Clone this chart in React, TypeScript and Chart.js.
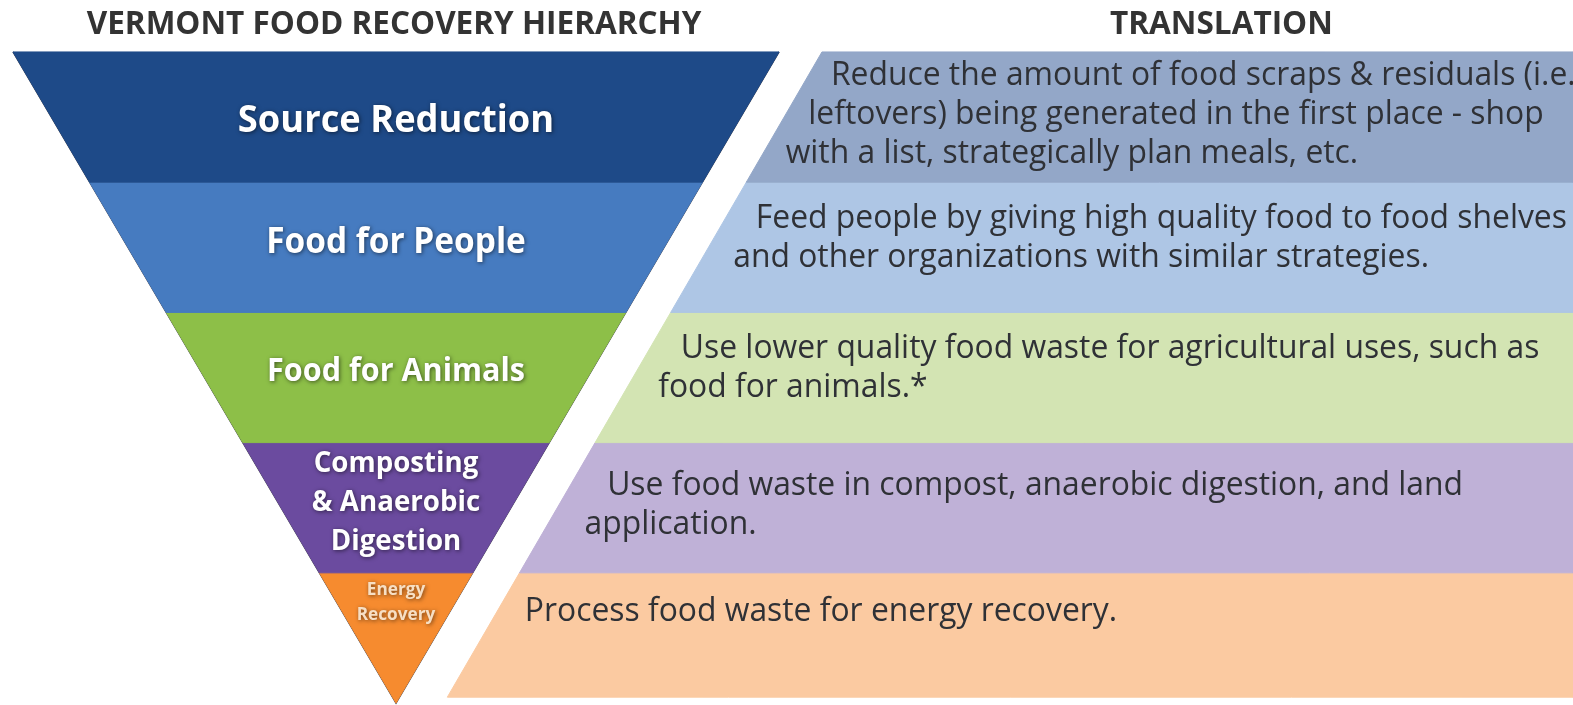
import { useEffect, useRef } from 'react';
import { Chart, registerables } from 'chart.js';

Chart.register(...registerables);

// ---------- data ----------
const levels = [
  'Source Reduction',
  'Food for People',
  'Food for Animals',
  'Composting & Anaerobic Digestion',
  'Energy Recovery',
];
const levelLabelLines = [
  ['Source Reduction'],
  ['Food for People'],
  ['Food for Animals'],
  ['Composting', '& Anaerobic', 'Digestion'],
  ['Energy', 'Recovery'],
];
const translationLines = [
  [
    'Reduce the amount of food scraps & residuals (i.e.',
    'leftovers) being generated in the first place - shop',
    'with a list, strategically plan meals, etc.',
  ],
  [
    'Feed people by giving high quality food to food shelves',
    'and other organizations with similar strategies.',
  ],
  [
    'Use lower quality food waste for agricultural uses, such as',
    'food for animals.*',
  ],
  [
    'Use food waste in compost, anaerobic digestion, and land',
    'application.',
  ],
  ['Process food waste for energy recovery.'],
];
const titles = ['VERMONT FOOD RECOVERY HIERARCHY', 'TRANSLATION'];

// ---------- styles ----------
const pyramidColors = ['#1e4a88', '#467bc0', '#8dbf48', '#6b4b9f', '#f68b2f'];
const panelColors = ['#93a7c8', '#aec6e5', '#d3e4b3', '#bfb1d7', '#fbcaa1'];
const labelFontSizes = [38, 35, 32, 29, 18];
const labelLineHeights = [40, 40, 40, 39, 25];
const labelOffsets = [4, -4, -6, -5, 0];
const labelColors = ['#ffffff', '#ffffff', '#ffffff', '#ffffff', '#f7dfc4'];
const textIndents = [23, 31, 31, 37, 28];
const textFirstOffsets = [0, 0, -1, 6, 2];

const X_MIN = -1.034;
const X_MAX = 3.073;
const Y_MIN = -0.399;
const Y_MAX = 5.015;
const GAP_TOP = 0.112;
const GAP_BOTTOM = 0.125;
const PANEL_BOTTOM = 4.955;
const TITLE_Y = -0.23;
const TRANSLATION_X = 2.155;
const FONT = '"Open Sans", "DejaVu Sans", sans-serif';

function drawScaled(ctx: CanvasRenderingContext2D, text: string, x: number, y: number, sx: number) {
  ctx.save();
  ctx.translate(x, y);
  ctx.scale(sx, 1);
  ctx.fillText(text, 0, 0);
  ctx.restore();
}

const N = levels.length;
const half = (v: number) => 1 - v / N;
const panelEdge = (v: number) => GAP_BOTTOM + (1 + GAP_TOP - GAP_BOTTOM) * half(v);

const textPlugin = {
  id: 'hierarchyText',
  afterDatasetsDraw(chart: any) {
    const ctx: CanvasRenderingContext2D = chart.ctx;
    const xs = chart.scales.x;
    const ys = chart.scales.y;

    ctx.save();
    // titles
    ctx.fillStyle = '#333333';
    ctx.font = `bold 32px ${FONT}`;
    ctx.textAlign = 'center';
    ctx.textBaseline = 'middle';
    drawScaled(ctx, titles[0], xs.getPixelForValue(0) - 2, ys.getPixelForValue(TITLE_Y) + 3, 0.985);
    drawScaled(ctx, titles[1], xs.getPixelForValue(TRANSLATION_X), ys.getPixelForValue(TITLE_Y) + 3, 0.985);

    // pyramid labels
    levels.forEach((_, i) => {
      const lines = levelLabelLines[i];
      const lh = labelLineHeights[i];
      const isApex = i === N - 1;
      const cy = ys.getPixelForValue(isApex ? i + 0.23 : i + 0.5) + labelOffsets[i];
      ctx.save();
      ctx.font = `bold ${labelFontSizes[i]}px ${FONT}`;
      ctx.fillStyle = labelColors[i];
      ctx.shadowColor = 'rgba(0,0,0,0.55)';
      ctx.shadowBlur = 4;
      ctx.shadowOffsetX = 1;
      ctx.shadowOffsetY = 1;
      ctx.textAlign = 'center';
      ctx.textBaseline = 'middle';
      const cx = xs.getPixelForValue(0);
      lines.forEach((ln, k) => {
        const y = cy + (k - (lines.length - 1) / 2) * lh;
        drawScaled(ctx, ln, cx, y, 0.955);
      });
      ctx.restore();
    });

    // translation text
    ctx.font = `32px ${FONT}`;
    ctx.fillStyle = '#2f3136';
    ctx.textAlign = 'left';
    ctx.textBaseline = 'middle';
    const lh = 39;
    levels.forEach((_, i) => {
      const lines = translationLines[i];
      const top = ys.getPixelForValue(i);
      const bottom = ys.getPixelForValue(Math.min(i + 1, PANEL_BOTTOM));
      const bandH = bottom - top;
      const first = top + Math.min(37, (bandH - lines.length * lh) / 2 + lh / 2 - 2) + textFirstOffsets[i];
      lines.forEach((ln, k) => {
        const y = first + k * lh;
        const v = ys.getValueForPixel(y);
        const x = xs.getPixelForValue(panelEdge(v)) + textIndents[i];
        drawScaled(ctx, ln, x, y, 0.995);
      });
    });
    ctx.restore();
  },
};

export default function App() {
  const ref = useRef<HTMLCanvasElement>(null);

  useEffect(() => {
    document.body.style.margin = '0';
    const datasets: any[] = [];

    levels.forEach((name, i) => {
      const a = i;
      const b = i + 1;
      datasets.push({
        label: name,
        data: [
          { x: -half(a), y: a },
          { x: half(a), y: a },
          { x: half(b), y: b },
          { x: -half(b), y: b },
          { x: -half(a), y: a },
        ],
        backgroundColor: pyramidColors[i],
        borderColor: pyramidColors[i],
        borderWidth: 1,
        fill: 'shape',
        pointRadius: 0,
        tension: 0,
      });
    });

    levels.forEach((name, i) => {
      const a = i;
      const b = Math.min(i + 1, PANEL_BOTTOM);
      datasets.push({
        label: name + ' (translation)',
        data: [
          { x: panelEdge(a), y: a },
          { x: X_MAX, y: a },
          { x: X_MAX, y: b },
          { x: panelEdge(b), y: b },
          { x: panelEdge(a), y: a },
        ],
        backgroundColor: panelColors[i],
        borderColor: panelColors[i],
        borderWidth: 1,
        fill: 'shape',
        pointRadius: 0,
        tension: 0,
      });
    });

    datasets.push({
      label: 'outline',
      data: [
        { x: -1, y: 0 },
        { x: 0, y: N },
        { x: 1, y: 0 },
      ],
      borderColor: '#3a3a46',
      borderWidth: 1.5,
      fill: false,
      pointRadius: 0,
      tension: 0,
    });

    const chart = new Chart(ref.current as HTMLCanvasElement, {
      type: 'line',
      data: { datasets },
      options: {
        animation: false,
        responsive: true,
        maintainAspectRatio: false,
        events: [],
        layout: { padding: 0 },
        plugins: { legend: { display: false }, tooltip: { enabled: false } },
        scales: {
          x: { type: 'linear', display: false, min: X_MIN, max: X_MAX },
          y: { type: 'linear', display: false, min: Y_MIN, max: Y_MAX, reverse: true },
        },
      } as any,
      plugins: [textPlugin],
    });
    return () => chart.destroy();
  }, []);

  return (
    <div style={{ position: 'fixed', left: 0, top: 0, width: '100vw', height: '100vh', background: '#ffffff' }}>
      <canvas ref={ref} />
    </div>
  );
}
